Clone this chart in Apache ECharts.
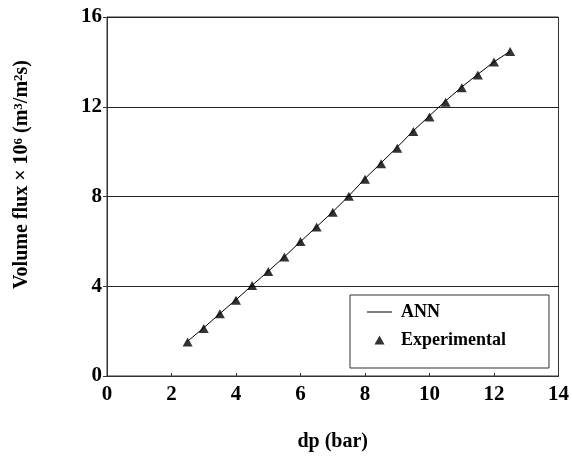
<!DOCTYPE html>
<html>
<head>
<meta charset="utf-8">
<script src="https://cdn.jsdelivr.net/npm/echarts@6/dist/echarts.min.js"></script>
<style>html,body{margin:0;padding:0;background:#fff}#c{width:572px;height:457px}</style>
</head>
<body>
<div id="c"></div>
<script>
var dp = [2.5, 3.0, 3.5, 4.0, 4.5, 5.0, 5.5, 6.0, 6.5, 7.0, 7.5, 8.0, 8.5, 9.0, 9.5, 10.0, 10.5, 11.0, 11.5, 12.0, 12.5];
var experimental = [1.52, 2.12, 2.77, 3.38, 4.03, 4.66, 5.30, 5.99, 6.64, 7.30, 8.01, 8.77, 9.46, 10.15, 10.90, 11.54, 12.20, 12.85, 13.42, 13.99, 14.46];
var ann = [1.55, 2.15, 2.78, 3.40, 4.04, 4.67, 5.31, 5.99, 6.65, 7.32, 8.03, 8.80, 9.50, 10.20, 10.93, 11.60, 12.26, 12.88, 13.45, 14.00, 14.47];
var xTicks = [0, 2, 4, 6, 8, 10, 12, 14];
var yTicks = [0, 4, 8, 12, 16];

var font = 'Liberation Serif';
function pairs(xs, ys) { return xs.map(function (x, i) { return [x, ys[i]]; }); }

var chart = echarts.init(document.getElementById('c'));
chart.setOption({
  animation: false,
  backgroundColor: '#fff',
  grid: { left: 107, right: 13, top: 17, bottom: 75.5, show: true, borderColor: '#333', borderWidth: 1 },
  xAxis: {
    type: 'value', min: xTicks[0], max: xTicks[xTicks.length - 1], interval: 2,
    name: 'dp (bar)', nameLocation: 'middle', nameGap: 56,
    nameTextStyle: { fontFamily: font, fontWeight: 'bold', fontSize: 20, color: '#000' },
    axisLine: { lineStyle: { color: '#333', width: 1 } },
    axisTick: { inside: true, length: 3, lineStyle: { color: '#333' } },
    axisLabel: { fontFamily: font, fontWeight: 'bold', fontSize: 21, color: '#000', margin: 8 },
    splitLine: { show: false }
  },
  yAxis: {
    type: 'value', min: yTicks[0], max: yTicks[yTicks.length - 1], interval: 4,
    name: 'Volume flux × 10{sup|6} (m{sup|3}/m{sup|2}s)', nameLocation: 'middle', nameGap: 75,
    nameTextStyle: {
      fontFamily: font, fontWeight: 'bold', fontSize: 20, color: '#000',
      padding: [0, 0, 0, 44],
      rich: { sup: { fontFamily: font, fontWeight: 'bold', fontSize: 13, color: '#000', verticalAlign: 'top', lineHeight: 12 } }
    },
    axisLine: { lineStyle: { color: '#333', width: 1 } },
    axisTick: { inside: false, length: 4, lineStyle: { color: '#333' } },
    axisLabel: { fontFamily: font, fontWeight: 'bold', fontSize: 21, color: '#000', margin: 5 },
    splitLine: { show: true, lineStyle: { color: '#222', width: 1 } }
  },
  legend: {
    orient: 'vertical', left: 350, top: 295,
    padding: [8, 43, 19, 17],
    borderColor: '#333', borderWidth: 1,
    itemGap: 10, itemWidth: 25, itemHeight: 9,
    symbolKeepAspect: true,
    textStyle: { fontFamily: font, fontWeight: 'bold', fontSize: 18, color: '#000', lineHeight: 18, padding: [0, 0, 0, 4] },
    data: [
      { name: 'ANN', icon: 'path://M0,0L25,0L25,1L0,1Z', itemStyle: { color: '#000' } },
      { name: 'Experimental', icon: 'path://M5,0L10,9L0,9Z', itemStyle: { color: '#000' } }
    ]
  },
  series: [
    {
      name: 'ANN', type: 'line', data: pairs(dp, ann), showSymbol: false, symbol: 'none',
      lineStyle: { color: '#000', width: 1 }, itemStyle: { color: '#000' }, z: 2
    },
    {
      name: 'Experimental', type: 'scatter', data: pairs(dp, experimental),
      symbol: 'triangle', symbolSize: [10, 9], itemStyle: { color: '#000' }, z: 3
    }
  ]
});
</script>
</body>
</html>
